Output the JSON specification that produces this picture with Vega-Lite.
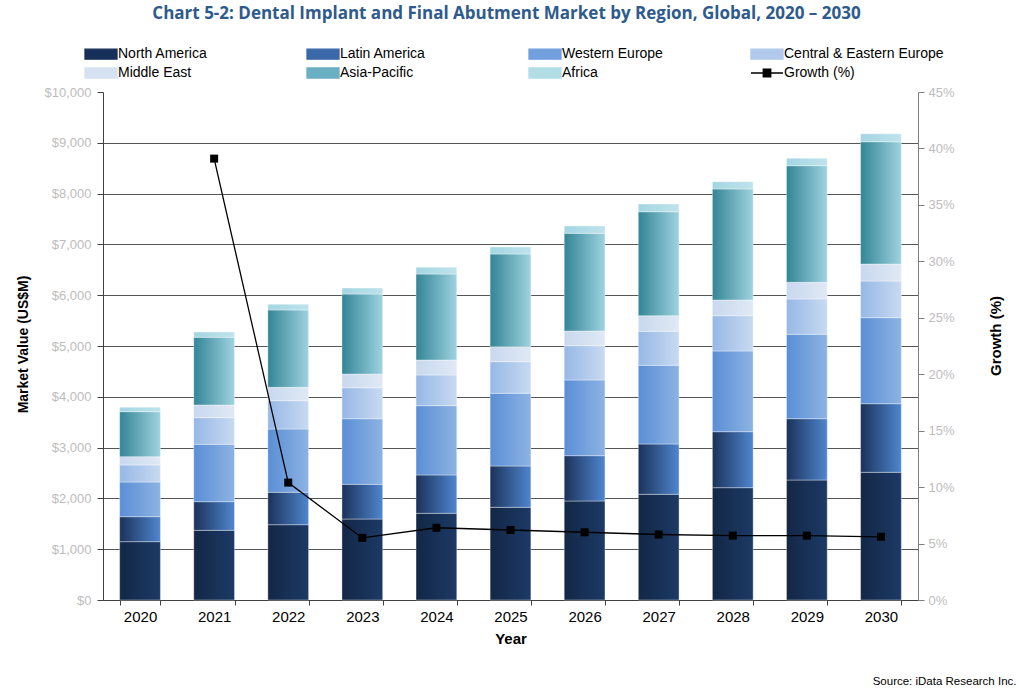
{
  "$schema": "https://vega.github.io/schema/vega-lite/v6.json",
  "width": 815,
  "height": 508,
  "autosize": {"type": "none"},
  "padding": {"left": 103, "top": 92, "right": 102, "bottom": 89},
  "background": "#ffffff",
  "config": {"font": "Liberation Sans", "view": {"stroke": null}},
  "title": {
    "text": "Chart 5-2: Dental Implant and Final Abutment Market by Region, Global, 2020 – 2030",
    "font": "Open Sans",
    "fontSize": 17,
    "fontWeight": "bold",
    "color": "#2E5A8C",
    "anchor": "middle",
    "frame": "group",
    "dx": -4,
    "offset": 24
  },
  "datasets": {
    "market": [
      {"year": "2020", "region": "North America", "value": 1148},
      {"year": "2020", "region": "Latin America", "value": 492},
      {"year": "2020", "region": "Western Europe", "value": 683},
      {"year": "2020", "region": "Central & Eastern Europe", "value": 335},
      {"year": "2020", "region": "Middle East", "value": 163},
      {"year": "2020", "region": "Asia-Pacific", "value": 886},
      {"year": "2020", "region": "Africa", "value": 87},
      {"year": "2021", "region": "North America", "value": 1372},
      {"year": "2021", "region": "Latin America", "value": 563},
      {"year": "2021", "region": "Western Europe", "value": 1130},
      {"year": "2021", "region": "Central & Eastern Europe", "value": 524},
      {"year": "2021", "region": "Middle East", "value": 250},
      {"year": "2021", "region": "Asia-Pacific", "value": 1333},
      {"year": "2021", "region": "Africa", "value": 104},
      {"year": "2022", "region": "North America", "value": 1482},
      {"year": "2022", "region": "Latin America", "value": 638},
      {"year": "2022", "region": "Western Europe", "value": 1246},
      {"year": "2022", "region": "Central & Eastern Europe", "value": 557},
      {"year": "2022", "region": "Middle East", "value": 264},
      {"year": "2022", "region": "Asia-Pacific", "value": 1522},
      {"year": "2022", "region": "Africa", "value": 112},
      {"year": "2023", "region": "North America", "value": 1594},
      {"year": "2023", "region": "Latin America", "value": 683},
      {"year": "2023", "region": "Western Europe", "value": 1291},
      {"year": "2023", "region": "Central & Eastern Europe", "value": 610},
      {"year": "2023", "region": "Middle East", "value": 270},
      {"year": "2023", "region": "Asia-Pacific", "value": 1575},
      {"year": "2023", "region": "Africa", "value": 118},
      {"year": "2024", "region": "North America", "value": 1707},
      {"year": "2024", "region": "Latin America", "value": 754},
      {"year": "2024", "region": "Western Europe", "value": 1364},
      {"year": "2024", "region": "Central & Eastern Europe", "value": 604},
      {"year": "2024", "region": "Middle East", "value": 295},
      {"year": "2024", "region": "Asia-Pacific", "value": 1693},
      {"year": "2024", "region": "Africa", "value": 132},
      {"year": "2025", "region": "North America", "value": 1825},
      {"year": "2025", "region": "Latin America", "value": 813},
      {"year": "2025", "region": "Western Europe", "value": 1431},
      {"year": "2025", "region": "Central & Eastern Europe", "value": 622},
      {"year": "2025", "region": "Middle East", "value": 295},
      {"year": "2025", "region": "Asia-Pacific", "value": 1825},
      {"year": "2025", "region": "Africa", "value": 138},
      {"year": "2026", "region": "North America", "value": 1949},
      {"year": "2026", "region": "Latin America", "value": 892},
      {"year": "2026", "region": "Western Europe", "value": 1490},
      {"year": "2026", "region": "Central & Eastern Europe", "value": 675},
      {"year": "2026", "region": "Middle East", "value": 289},
      {"year": "2026", "region": "Asia-Pacific", "value": 1923},
      {"year": "2026", "region": "Africa", "value": 144},
      {"year": "2027", "region": "North America", "value": 2081},
      {"year": "2027", "region": "Latin America", "value": 990},
      {"year": "2027", "region": "Western Europe", "value": 1549},
      {"year": "2027", "region": "Central & Eastern Europe", "value": 669},
      {"year": "2027", "region": "Middle East", "value": 307},
      {"year": "2027", "region": "Asia-Pacific", "value": 2047},
      {"year": "2027", "region": "Africa", "value": 152},
      {"year": "2028", "region": "North America", "value": 2211},
      {"year": "2028", "region": "Latin America", "value": 1102},
      {"year": "2028", "region": "Western Europe", "value": 1589},
      {"year": "2028", "region": "Central & Eastern Europe", "value": 695},
      {"year": "2028", "region": "Middle East", "value": 309},
      {"year": "2028", "region": "Asia-Pacific", "value": 2185},
      {"year": "2028", "region": "Africa", "value": 144},
      {"year": "2029", "region": "North America", "value": 2362},
      {"year": "2029", "region": "Latin America", "value": 1207},
      {"year": "2029", "region": "Western Europe", "value": 1661},
      {"year": "2029", "region": "Central & Eastern Europe", "value": 695},
      {"year": "2029", "region": "Middle East", "value": 329},
      {"year": "2029", "region": "Asia-Pacific", "value": 2295},
      {"year": "2029", "region": "Africa", "value": 146},
      {"year": "2030", "region": "North America", "value": 2514},
      {"year": "2030", "region": "Latin America", "value": 1350},
      {"year": "2030", "region": "Western Europe", "value": 1693},
      {"year": "2030", "region": "Central & Eastern Europe", "value": 722},
      {"year": "2030", "region": "Middle East", "value": 335},
      {"year": "2030", "region": "Asia-Pacific", "value": 2407},
      {"year": "2030", "region": "Africa", "value": 157}
    ],
    "growth": [
      {"year": "2021", "growth": 39.1},
      {"year": "2022", "growth": 10.4},
      {"year": "2023", "growth": 5.5},
      {"year": "2024", "growth": 6.4},
      {"year": "2025", "growth": 6.2},
      {"year": "2026", "growth": 6.0},
      {"year": "2027", "growth": 5.8},
      {"year": "2028", "growth": 5.7},
      {"year": "2029", "growth": 5.7},
      {"year": "2030", "growth": 5.6}
    ]
  },
  "layer": [
    {
      "data": {"name": "market"},
      "transform": [
        {
          "calculate": "indexof(['North America','Latin America','Western Europe','Central & Eastern Europe','Middle East','Asia-Pacific','Africa'], datum.region)",
          "as": "stackOrder"
        }
      ],
      "mark": {"type": "bar", "stroke": "#ffffff", "strokeWidth": 0.6, "strokeOpacity": 0.6},
      "encoding": {
        "x": {
          "field": "year",
          "type": "nominal",
          "scale": {"paddingInner": 0.45, "paddingOuter": 0.225},
          "axis": {
            "title": "Year",
            "titleFontSize": 15,
            "titleFontWeight": "bold",
            "titleColor": "#000000",
            "titleY": 31,
            "titleBaseline": "top",
            "labelAngle": 0,
            "labelFontSize": 15,
            "labelColor": "#000000",
            "labelPadding": 4,
            "tickBand": "extent",
            "tickSize": 5,
            "tickColor": "#404040",
            "domainColor": "#404040",
            "grid": false
          }
        },
        "y": {
          "field": "value",
          "type": "quantitative",
          "stack": "zero",
          "scale": {"domain": [0, 10000], "nice": false},
          "axis": {
            "title": "Market Value (US$M)",
            "titleFontSize": 14,
            "titleFontWeight": "bold",
            "titleColor": "#000000",
            "titleX": -79.5,
            "titleY": 252,
            "titleAngle": -90,
            "titleAlign": "center",
            "titleBaseline": "middle",
            "values": [0, 1000, 2000, 3000, 4000, 5000, 6000, 7000, 8000, 9000, 10000],
            "format": "$,.0f",
            "labelFontSize": 13,
            "labelColor": "#bdbdbd",
            "labelPadding": 6,
            "tickSize": 6,
            "tickColor": "#404040",
            "domainColor": "#404040",
            "grid": true,
            "gridColor": "#555555",
            "gridWidth": 1,
            "gridOpacity": {"condition": {"test": "datum.value >= 10000", "value": 0}, "value": 1}
          }
        },
        "detail": {"field": "region"},
        "order": {"field": "stackOrder"},
        "color": {
          "condition": [
            {"test": "datum.region === 'North America'", "value": {"gradient": "linear", "x1": 0, "y1": 0, "x2": 1, "y2": 0, "stops": [{"offset": 0, "color": "#132746"}, {"offset": 1, "color": "#1c3a66"}]}},
            {"test": "datum.region === 'Latin America'", "value": {"gradient": "linear", "x1": 0, "y1": 0, "x2": 1, "y2": 0, "stops": [{"offset": 0, "color": "#1b325a"}, {"offset": 1, "color": "#4f86cf"}]}},
            {"test": "datum.region === 'Western Europe'", "value": {"gradient": "linear", "x1": 0, "y1": 0, "x2": 1, "y2": 0, "stops": [{"offset": 0, "color": "#5a8ed6"}, {"offset": 1, "color": "#8db3e3"}]}},
            {"test": "datum.region === 'Central & Eastern Europe'", "value": {"gradient": "linear", "x1": 0, "y1": 0, "x2": 1, "y2": 0, "stops": [{"offset": 0, "color": "#96b8e6"}, {"offset": 1, "color": "#c8daf1"}]}},
            {"test": "datum.region === 'Middle East'", "value": {"gradient": "linear", "x1": 0, "y1": 0, "x2": 1, "y2": 0, "stops": [{"offset": 0, "color": "#c8d8ee"}, {"offset": 1, "color": "#e0e9f5"}]}},
            {"test": "datum.region === 'Asia-Pacific'", "value": {"gradient": "linear", "x1": 0, "y1": 0, "x2": 1, "y2": 0, "stops": [{"offset": 0, "color": "#338596"}, {"offset": 1, "color": "#9fd3e0"}]}}
          ],
          "value": {"gradient": "linear", "x1": 0, "y1": 0, "x2": 1, "y2": 0, "stops": [{"offset": 0, "color": "#a3d6e2"}, {"offset": 1, "color": "#bfe3ec"}]}
        }
      }
    },
    {
      "data": {"name": "growth"},
      "mark": {
        "type": "line",
        "strokeWidth": 1.3,
        "point": {"shape": "square", "size": 64, "filled": true, "opacity": 1}
      },
      "encoding": {
        "x": {
          "field": "year",
          "type": "nominal",
          "axis": {
            "orient": "bottom",
            "labels": false,
            "ticks": false,
            "domain": false,
            "grid": false,
            "title": "Source: iData Research Inc.",
            "titleFont": "Liberation Sans",
            "titleFontSize": 11.5,
            "titleFontWeight": "normal",
            "titleColor": "#000000",
            "titleX": 913,
            "titleY": 81,
            "titleAlign": "right",
            "titleBaseline": "middle"
          }
        },
        "y": {
          "field": "growth",
          "type": "quantitative",
          "scale": {"domain": [0, 45], "nice": false},
          "axis": {
            "orient": "right",
            "title": "Growth (%)",
            "titleFontSize": 15,
            "titleFontWeight": "bold",
            "titleColor": "#000000",
            "titleX": 77,
            "titleY": 243.5,
            "titleAngle": -90,
            "titleAlign": "center",
            "titleBaseline": "middle",
            "values": [0, 5, 10, 15, 20, 25, 30, 35, 40, 45],
            "labelExpr": "datum.value + '%'",
            "labelFontSize": 13,
            "labelColor": "#bdbdbd",
            "labelPadding": 4,
            "tickSize": 6,
            "tickColor": "#808080",
            "domainColor": "#808080",
            "grid": false
          }
        },
        "color": {
          "datum": "Growth (%)",
          "scale": {
            "domain": ["North America", "Latin America", "Western Europe", "Central & Eastern Europe", "Middle East", "Asia-Pacific", "Africa", "Growth (%)"],
            "range": ["#17305a", "#3a68a8", "#72a0de", "#b0c9ec", "#d6e1f1", "#6aafc2", "#b1dde7", "#000000"]
          },
          "legend": {
            "orient": "none",
            "legendX": -20,
            "legendY": -45,
            "direction": "horizontal",
            "columns": 4,
            "gridAlign": "all",
            "columnPadding": 26,
            "rowPadding": 3,
            "title": null,
            "labelFont": "Liberation Sans",
            "labelFontSize": 14,
            "labelColor": "#000000",
            "labelLimit": 260,
            "labelOffset": 21,
            "symbolSize": 100,
            "symbolStrokeWidth": 0,
            "encode": {
              "symbols": {
                "update": {
                  "shape": {"signal": "datum.value === 'Growth (%)' ? 'M-1,0H5.4M1.45,-0.75H2.95V0.75H1.45Z' : 'M-1,-1H5.4V1H-1Z'"},
                  "fill": {"signal": "datum.value === 'North America' ? {gradient: 'linear', x1: 0, y1: 0, x2: 1, y2: 0, stops: [{offset: 0, color: '#132746'}, {offset: 1, color: '#1c3a66'}]} : datum.value === 'Latin America' ? {gradient: 'linear', x1: 0, y1: 0, x2: 1, y2: 0, stops: [{offset: 0, color: '#1b325a'}, {offset: 1, color: '#4f86cf'}]} : datum.value === 'Western Europe' ? {gradient: 'linear', x1: 0, y1: 0, x2: 1, y2: 0, stops: [{offset: 0, color: '#5a8ed6'}, {offset: 1, color: '#8db3e3'}]} : datum.value === 'Central & Eastern Europe' ? {gradient: 'linear', x1: 0, y1: 0, x2: 1, y2: 0, stops: [{offset: 0, color: '#96b8e6'}, {offset: 1, color: '#c8daf1'}]} : datum.value === 'Middle East' ? {gradient: 'linear', x1: 0, y1: 0, x2: 1, y2: 0, stops: [{offset: 0, color: '#c8d8ee'}, {offset: 1, color: '#e0e9f5'}]} : datum.value === 'Asia-Pacific' ? {gradient: 'linear', x1: 0, y1: 0, x2: 1, y2: 0, stops: [{offset: 0, color: '#338596'}, {offset: 1, color: '#9fd3e0'}]} : datum.value === 'Africa' ? {gradient: 'linear', x1: 0, y1: 0, x2: 1, y2: 0, stops: [{offset: 0, color: '#a3d6e2'}, {offset: 1, color: '#bfe3ec'}]} : '#000000'"},
                  "stroke": {"signal": "datum.value === 'Growth (%)' ? '#000000' : 'transparent'"},
                  "strokeWidth": {"value": 1.3},
                  "opacity": {"value": 1}
                }
              }
            }
          }
        }
      }
    }
  ],
  "resolve": {"scale": {"y": "independent"}, "axis": {"x": "independent"}}
}
